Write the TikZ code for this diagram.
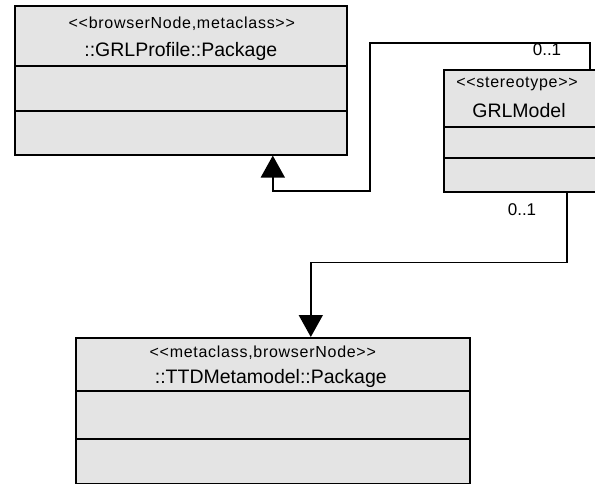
\documentclass[tikz,border=0pt]{standalone}
\usepackage{fontspec}
\setmainfont{Liberation Sans}
\newfontfamily\stereofont[LetterSpace=4.5]{Liberation Sans}
\usepackage{tikz}
\usetikzlibrary{arrows.meta, positioning, calc}
\usepackage{xcolor}
\definecolor{umlfill}{RGB}{228,228,228}

\begin{document}
\begin{tikzpicture}[
    x=1pt, y=-1pt,
    classbox/.style={rectangle, draw=black, line width=1.6pt, fill=umlfill,
                     anchor=north west, inner sep=0pt},
    divider/.style={line width=1.6pt},
    stereo/.style={font=\stereofont\fontsize{16}{18}\selectfont, inner sep=0pt, anchor=base},
    cname/.style={font=\fontsize{19.5}{22}\selectfont, inner sep=0pt, anchor=base},
    mult/.style={font=\fontsize{17}{19}\selectfont, inner sep=0pt, anchor=base},
    assoc/.style={line width=1.6pt, -{Triangle[length=22pt,width=24pt]}},
]
\useasboundingbox (0,0) rectangle (595,484);

\node[classbox, minimum width=332pt, minimum height=149pt] (profile) at (14,5) {};
\node[classbox, minimum width=180pt, minimum height=122pt] (model) at (443,69) {};
\node[classbox, minimum width=394pt, minimum height=146pt] (ttd) at (75,337) {};

\draw[divider] ([yshift=-61pt]profile.north west) -- ([yshift=-61pt]profile.north east);
\draw[divider] ([yshift=-106pt]profile.north west) -- ([yshift=-106pt]profile.north east);
\draw[divider] ([yshift=-58pt]model.north west) -- ([yshift=-58pt]model.north east);
\draw[divider] ([yshift=-89pt]model.north west) -- ([yshift=-89pt]model.north east);
\draw[divider] ([yshift=-54pt]ttd.north west) -- ([yshift=-54pt]ttd.north east);
\draw[divider] ([yshift=-102pt]ttd.north west) -- ([yshift=-102pt]ttd.north east);

\node[stereo] (profilest) at ($(profile.north)+(1,24)$) {<<browserNode,metaclass>>};
\node[cname] (profilename) at ($(profile.north)+(0,52)$) {::GRLProfile::Package};
\node[stereo] (modelst) at ($(model.north west)+(74,19)$) {<<stereotype>>};
\node[cname] (modelname) at ($(model.north west)+(76,49)$) {GRLModel};
\node[stereo] (ttdst) at ($(ttd.north)+(-10,20)$) {<<metaclass,browserNode>>};
\node[cname] (ttdname) at ($(ttd.north)+(-2,46)$) {::TTDMetamodel::Package};

\node[mult] (multprofile) at (547,56) {0..1};
\node[mult] (multttd) at (522,215) {0..1};

\draw[assoc] ([xshift=147pt]model.north west) -- ++(0,-26) -| ++(-220,148) -| ([xshift=92pt]profile.south);
\draw[assoc] ([xshift=124pt]model.south west) -- ++(0,70) -| ([xshift=38pt]ttd.north);
\end{tikzpicture}
\end{document}
